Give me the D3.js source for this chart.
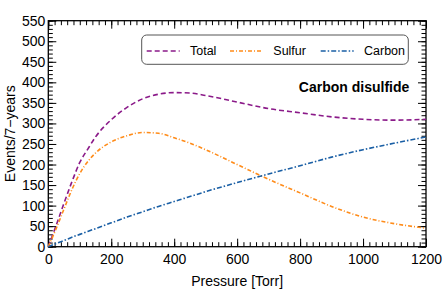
<!DOCTYPE html>
<html>
<head>
<meta charset="utf-8">
<script src="https://cdn.jsdelivr.net/npm/d3@7"></script>
<style>
  body { margin: 0; background: #fff; }
  svg { font-family: "Liberation Sans", Arial, sans-serif; }
</style>
</head>
<body>
<div id="chart"></div>
<script>
// values
const pressure = [0, 25, 50, 75, 100, 125, 150, 200, 250, 300, 350, 400, 450, 500, 600, 700, 800, 900, 1000, 1100, 1200];
const total    = [0, 52, 106, 158, 205, 237, 267, 309, 339, 360, 371, 375, 374, 368, 352, 336, 326, 316, 310, 308, 310];
const sulfur   = [0, 44, 92, 139, 178, 207, 228, 255, 270, 278, 276, 265, 252, 236, 200, 164, 131, 98, 72, 56, 45];
const carbon   = [0, 8, 15, 23, 30, 37, 44, 58, 72, 85, 98, 110, 122, 134, 156, 177, 197, 218, 236, 252, 267];

const seriesNames = ["Total", "Sulfur", "Carbon"];
const seriesColors = ["#8b1a89", "#ff8c1a", "#1a5fa5"];
const seriesDash = ["5,3", "4,2,1,2", "5,2,1.5,2"];
const seriesValues = [total, sulfur, carbon];

const xTicks = [0, 200, 400, 600, 800, 1000, 1200];
const yTicks = d3.range(0, 551, 50);

const W = 443, H = 291;
const margin = {top: 20.7, right: 17, bottom: 44.3, left: 48.3};
const width = W - margin.left - margin.right;
const height = H - margin.top - margin.bottom;

const x = d3.scaleLinear().domain([0, 1200]).range([0, width]);
const y = d3.scaleLinear().domain([0, 550]).range([height, 0]);

const svg = d3.select("#chart")
  .append("svg")
  .attr("width", W)
  .attr("height", H)
  .append("g")
  .attr("transform", `translate(${margin.left},${margin.top})`);

// ticks on all four sides, pointing inward
function tickAxis(axis, values, size, fmt) {
  return axis.tickValues(values).tickSize(size).tickFormat(fmt);
}
const minorX = d3.range(0, 1201, 20), minorY = d3.range(0, 551, 10);

const axes = [
  [d3.axisBottom(x), `translate(0,${height})`, xTicks, minorX],
  [d3.axisTop(x), `translate(0,0)`, xTicks, minorX],
  [d3.axisLeft(y), `translate(0,0)`, yTicks, minorY],
  [d3.axisRight(y), `translate(${width},0)`, yTicks, minorY]
];
axes.forEach(function(a, i) {
  const g1 = svg.append("g").attr("transform", a[1])
    .call(tickAxis(a[0], a[3], -4.5, ""));
  g1.select(".domain").remove();
  const g2 = svg.append("g").attr("transform", a[1])
    .call(tickAxis(a[0], a[2], -8, (i === 0 || i === 2) ? d3.format("d") : ""));
  g2.select(".domain").remove();
  g2.selectAll("text").attr("font-size", 14).attr("fill", "#000")
    .attr("font-family", "Liberation Sans, Arial, sans-serif");
  if (i === 0) g2.selectAll("text").attr("y", 7).attr("dy", "0.71em");
  if (i === 2) g2.selectAll("text").attr("x", -3);
  svg.selectAll("line").attr("stroke", "#000").attr("stroke-width", 1);
});

svg.append("rect")
  .attr("width", width)
  .attr("height", height)
  .attr("fill", "none")
  .attr("stroke", "#000")
  .attr("stroke-width", 1.3);

// curves
const line = d3.line()
  .x(d => x(d[0]))
  .y(d => y(d[1]))
  .curve(d3.curveMonotoneX);

seriesValues.forEach(function(vals, i) {
  svg.append("path")
    .datum(pressure.map((p, j) => [p, vals[j]]))
    .attr("fill", "none")
    .attr("stroke", seriesColors[i])
    .attr("stroke-width", 1.6)
    .attr("stroke-dasharray", seriesDash[i])
    .attr("d", line);
});

// legend
const lg = svg.append("g").attr("transform", `translate(${141.7 - margin.left},${35 - margin.top})`);
lg.append("rect")
  .attr("width", 266.6).attr("height", 29.3)
  .attr("rx", 5).attr("ry", 5)
  .attr("fill", "#fff")
  .attr("stroke", "#555")
  .attr("stroke-width", 1);
const legendX = [5, 88.3, 179];
seriesNames.forEach(function(name, i) {
  lg.append("line")
    .attr("x1", legendX[i]).attr("x2", legendX[i] + 33)
    .attr("y1", 16).attr("y2", 16)
    .attr("stroke", seriesColors[i])
    .attr("stroke-width", 1.6)
    .attr("stroke-dasharray", seriesDash[i]);
  lg.append("text")
    .attr("x", legendX[i] + 43.3).attr("y", 20.3)
    .attr("font-size", 12.5)
    .text(name);
});

svg.append("text")
  .attr("x", 409.3 - margin.left).attr("y", 91.7 - margin.top)
  .attr("text-anchor", "end")
  .attr("font-size", 14)
  .attr("font-weight", "bold")
  .text("Carbon disulfide");

svg.append("text")
  .attr("x", width / 2).attr("y", 286 - margin.top)
  .attr("text-anchor", "middle")
  .attr("font-size", 14)
  .text("Pressure [Torr]");

svg.append("text")
  .attr("transform", `translate(${15 - margin.left},${height / 2}) rotate(-90)`)
  .attr("text-anchor", "middle")
  .attr("font-size", 14)
  .text("Events/7\u2212years");
</script>
</body>
</html>
